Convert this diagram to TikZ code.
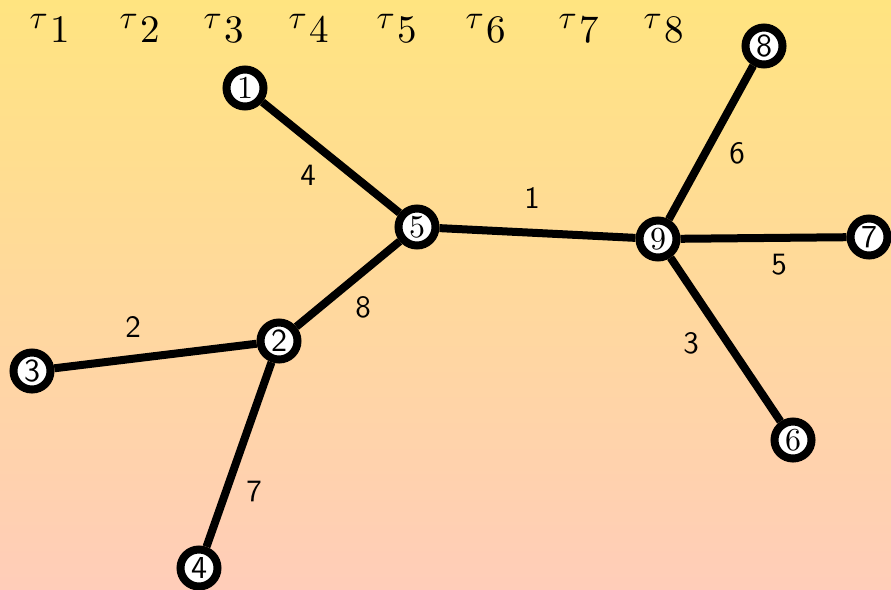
\documentclass[tikz,border=0pt]{standalone}
\usepackage{graphicx}
\usepackage{fontspec}
\setmainfont{lmroman10-regular}[Extension=.otf]
\setsansfont{lmsans10-regular}[Extension=.otf]
\definecolor{bgtop}{RGB}{255,228,128}
\definecolor{bgbot}{RGB}{255,205,185}
\tikzset{
  vert/.style={circle, draw=black, fill=white, line width=8pt, inner sep=0pt, minimum size=37pt, font=\fontsize{32}{32}\selectfont},
  vrm/.style={vert},
  vsf/.style={vert, font=\fontsize{32}{32}\selectfont\sffamily},
  edge/.style={line width=8pt, black},
  wlab/.style={font=\fontsize{31}{31}\selectfont\sffamily, inner sep=0pt},
  tlab/.style={inner sep=0pt, anchor=base}
}
\newcommand{\tausub}[1]{\scalebox{3.3}{\normalsize$\tau$}\kern3pt\raisebox{-14pt}{\fontsize{39}{39}\selectfont #1}}
\begin{document}
\begin{tikzpicture}[x=1pt,y=-1pt]
\shade[top color=bgtop, bottom color=bgbot] (0,0) rectangle (891,589);
\useasboundingbox (0,0) rectangle (891,589);
% tau labels
\foreach \i/\x in {1/50,2/140,3/224,4/309,5/397,6/486,7/579,8/664}
  \node[tlab] (t\i) at (\x,28) {\tausub{\i}};
% vertices
\node[vrm] (n1) at (245,88) {1};
\node[vrm] (n5) at (417,227) {5};
\node[vrm] (n9) at (658,239) {9};
\node[vsf] (n8) at (764,46) {8};
\node[vsf] (n7) at (869,237) {7};
\node[vrm] (n6) at (793,440) {6};
\node[vsf] (n2) at (279,341) {2};
\node[vsf] (n3) at (32,371) {3};
\node[vsf] (n4) at (199,568) {4};
% edges
\draw[edge] (n1) -- (n5);
\draw[edge] (n5) -- (n9);
\draw[edge] (n9) -- (n8);
\draw[edge] (n9) -- (n7);
\draw[edge] (n9) -- (n6);
\draw[edge] (n5) -- (n2);
\draw[edge] (n2) -- (n3);
\draw[edge] (n2) -- (n4);
% weights
\node[wlab] (w15) at (308,175) {4};
\node[wlab] (w59) at (532,198) {1};
\node[wlab] (w98) at (737,153) {6};
\node[wlab] (w97) at (779,265) {5};
\node[wlab] (w96) at (691,343) {3};
\node[wlab] (w52) at (363,307) {8};
\node[wlab] (w23) at (133,327) {2};
\node[wlab] (w24) at (254,491) {7};
\end{tikzpicture}
\end{document}
